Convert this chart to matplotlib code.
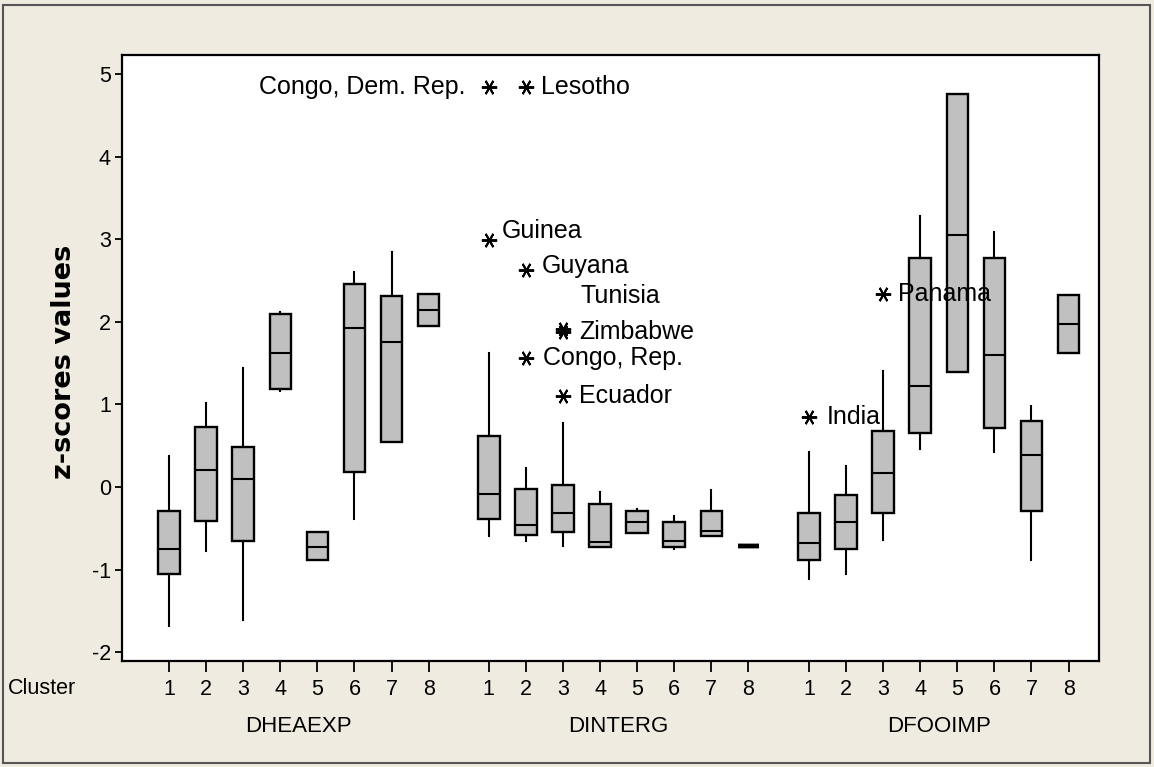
import matplotlib
matplotlib.use("Agg")
import matplotlib.pyplot as plt
from matplotlib.patches import Rectangle

plt.rcParams['font.family'] = ['Liberation Sans', 'DejaVu Sans']

groups = ["DHEAEXP", "DINTERG", "DFOOIMP"]
clusters = ["1", "2", "3", "4", "5", "6", "7", "8"]

# per group: lists over clusters 1..8
whislo = [
    [-1.68, -0.78, -1.61, 1.16, -0.88, -0.39, 0.54, 1.95],
    [-0.59, -0.66, -0.71, -0.73, -0.56, -0.75, -0.60, -0.71],
    [-1.12, -1.05, -0.64, 0.46, 1.39, 0.43, -0.88, 1.63],
]
q1 = [
    [-1.06, -0.41, -0.65, 1.19, -0.88, 0.18, 0.54, 1.95],
    [-0.39, -0.58, -0.54, -0.73, -0.56, -0.73, -0.59, -0.71],
    [-0.88, -0.75, -0.31, 0.66, 1.39, 0.72, -0.29, 1.63],
]
med = [
    [-0.75, 0.20, 0.10, 1.63, -0.73, 1.93, 1.76, 2.14],
    [-0.09, -0.46, -0.31, -0.67, -0.43, -0.65, -0.53, -0.71],
    [-0.68, -0.43, 0.17, 1.22, 3.06, 1.60, 0.39, 1.97],
]
q3 = [
    [-0.29, 0.73, 0.49, 2.10, -0.55, 2.46, 2.32, 2.34],
    [0.62, -0.02, 0.03, -0.21, -0.29, -0.43, -0.29, -0.71],
    [-0.31, -0.10, 0.68, 2.78, 4.76, 2.78, 0.80, 2.33],
]
whishi = [
    [0.37, 1.02, 1.44, 2.12, -0.54, 2.61, 2.85, 2.34],
    [1.62, 0.23, 0.77, -0.06, -0.27, -0.35, -0.04, -0.71],
    [0.42, 0.25, 1.41, 3.29, 4.76, 3.09, 0.98, 2.33],
]

out_group = [1, 1, 1, 1, 1, 1, 1, 1, 2, 2]
out_cluster = [1, 2, 1, 2, 3, 3, 2, 3, 1, 3]
out_value = [4.85, 4.85, 2.99, 2.63, 1.91, 1.88, 1.56, 1.10, 0.85, 2.34]
out_label = ["Congo, Dem. Rep.", "Lesotho", "Guinea", "Guyana", "Tunisia",
             "Zimbabwe", "Congo, Rep.", "Ecuador", "India", "Panama"]
out_offset = [(-17, 0), (11, 0), (9, 6.5), (11.5, 3), (12.5, 24),
              (12, 0), (12.5, 0), (11.5, 0), (12.5, 0), (10.5, 0)]
out_ha = ["right", "left", "left", "left", "left",
          "left", "left", "left", "left", "left"]

y_ticks = [-2, -1, 0, 1, 2, 3, 4, 5]

group_offsets = [0.0, 8.62, 17.25]

W, H = 1154, 767
fig = plt.figure(figsize=(W / 100, H / 100), dpi=100)
bg = "#EFEBE1"
fig.patch.set_facecolor(bg)
fig.patches.append(Rectangle((3 / W, 4 / H), (1150 - 3) / W, (762 - 4) / H,
                             transform=fig.transFigure, fill=False,
                             edgecolor="#555555", linewidth=1.5))

ax = fig.add_axes([122 / W, 1 - 661 / H, (1099 - 122) / W, (661 - 55) / H])
ax.set_facecolor("white")

stats = []
positions = []
for g in range(3):
    for c in range(8):
        stats.append(dict(med=med[g][c], q1=q1[g][c], q3=q3[g][c],
                          whislo=whislo[g][c], whishi=whishi[g][c], fliers=[]))
        positions.append(group_offsets[g] + c)

res = ax.bxp(stats, positions=positions, widths=0.58, patch_artist=True,
             showcaps=False, showfliers=False,
             boxprops=dict(facecolor="#C0C0C0", edgecolor="black", linewidth=1.7),
             medianprops=dict(color="black", linewidth=1.5),
             whiskerprops=dict(color="black", linewidth=1.5))

# zero-height boxes look like a thick bar
for st, box, mline in zip(stats, res["boxes"], res["medians"]):
    if st["q3"] - st["q1"] < 1e-9:
        box.set_linewidth(3.2)
        mline.set_linewidth(3.2)

for g, c, v, lab, off, ha in zip(out_group, out_cluster, out_value, out_label,
                                 out_offset, out_ha):
    x = group_offsets[g] + c - 1
    ax.plot([x], [v], marker=(6, 2, 90), markersize=11, color="black",
            markeredgewidth=1.4, linestyle="none")
    ax.annotate(lab, (x, v), xytext=off, textcoords="offset points",
                ha=ha, va="center", fontsize=18)

ax.set_xlim(-1.267, 25.07)
ax.set_ylim(-2.109, 5.236)
ax.set_yticks(y_ticks)
ax.set_yticklabels([str(t) for t in y_ticks])
ax.set_xticks(positions)
ax.set_xticklabels(clusters * 3)
ax.tick_params(axis="y", direction="out", length=5, width=1.3, labelsize=15.5, pad=3)
ax.tick_params(axis="x", direction="out", length=8, width=1.3, labelsize=15.5, pad=5)
for s in ax.spines.values():
    s.set_linewidth(1.6)

fig.text(64 / W, 1 - 362 / H, "z-scores values", rotation=90, ha="center",
         va="center", fontsize=19.5, fontweight="bold", family="DejaVu Sans")

fig.text(42 / W, 1 - 689 / H, "Cluster", ha="center", va="center", fontsize=15.5)
for g in range(3):
    xc = group_offsets[g] + 3.5
    xf = fig.transFigure.inverted().transform(ax.transData.transform((xc, 0)))[0]
    fig.text(xf, 1 - 727 / H, groups[g], ha="center", va="center", fontsize=16)

fig.savefig("out.png", dpi=100, facecolor=bg)
